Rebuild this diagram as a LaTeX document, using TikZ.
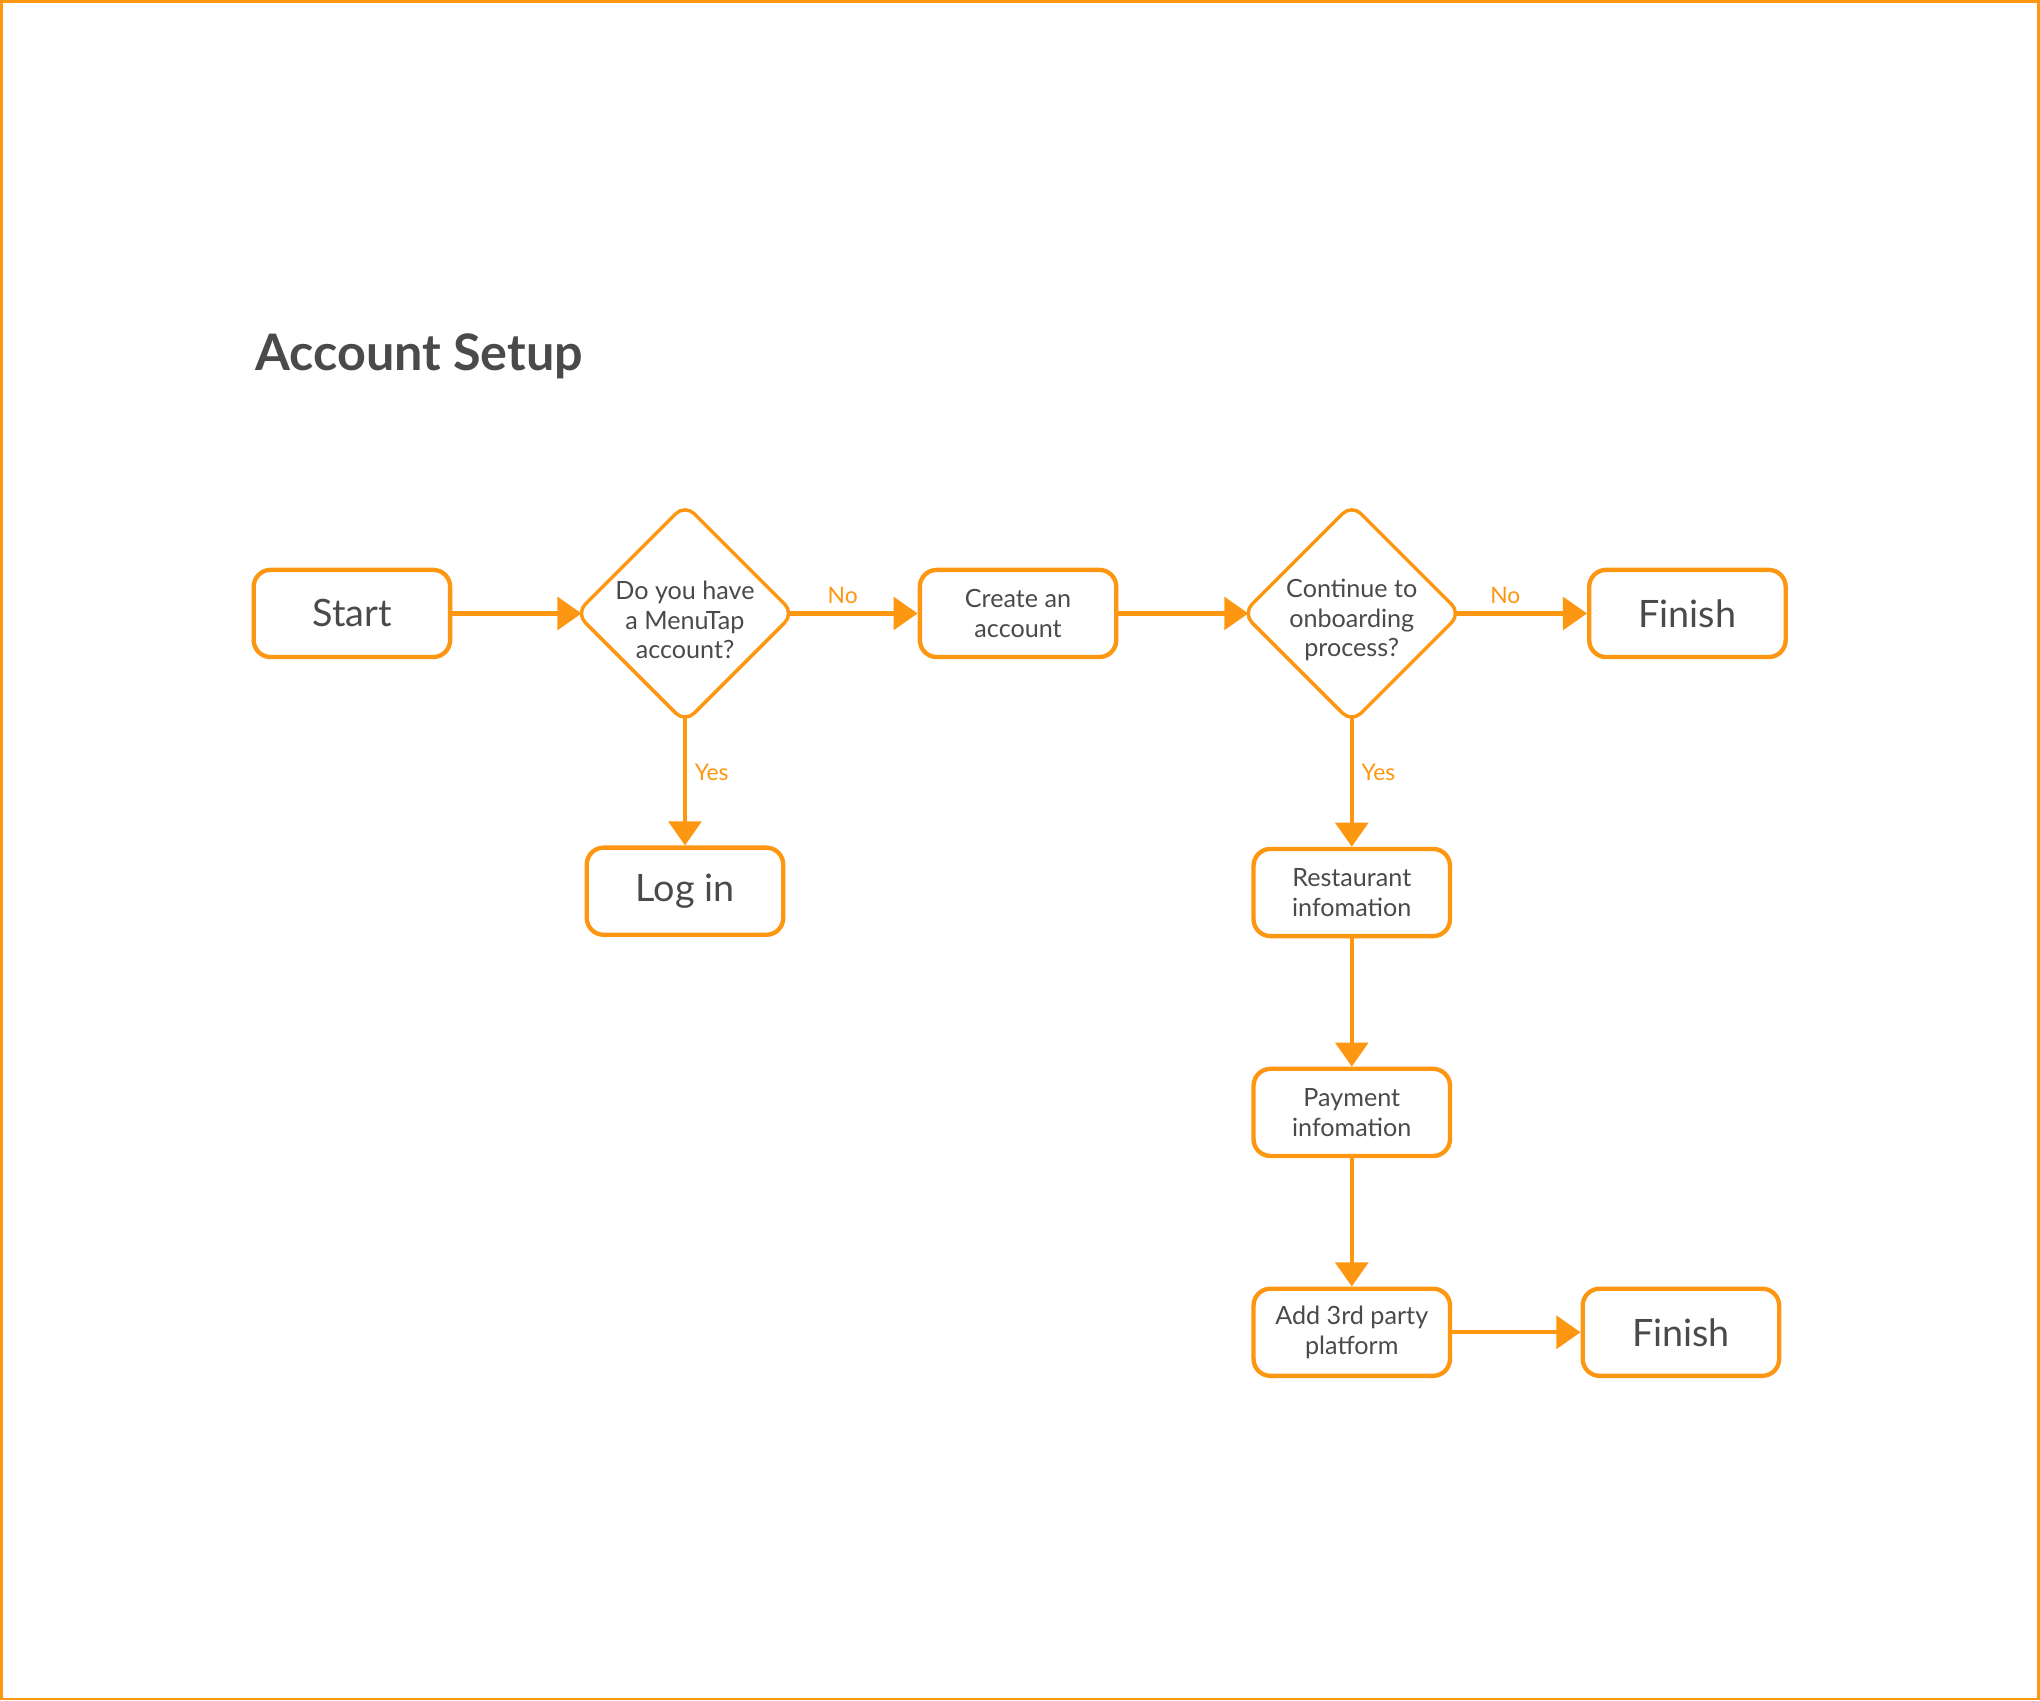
\documentclass[tikz,border=0pt]{standalone}
\usepackage{fontspec}
\setmainfont{Lato}
\definecolor{menuorange}{RGB}{253, 150, 16}
\definecolor{menugray}{RGB}{74, 74, 74}
\usetikzlibrary{shapes.geometric,arrows.meta}

\begin{document}
\begin{tikzpicture}[
                    termbox/.style={draw=menuorange, line width=1.9pt, rounded corners=0.26cm, minimum width=3.02cm, minimum height=1.34cm, text=menugray, font=\fontsize{16.5}{19}\selectfont},
                    procbox/.style={termbox, align=center, font=\fontsize{11}{13}\selectfont},
                    decision/.style={draw=menuorange, line width=1.5pt, diamond, rounded corners=0.2cm, minimum width=3.3cm, minimum height=3.3cm, inner sep=0pt, outer sep=-0.06cm},
                    qtext/.style={align=center, text=menugray, font=\fontsize{11}{13}\selectfont, yshift=-0.1cm},
                    flowarrow/.style={draw=menuorange, line width=1.9pt, -{Triangle[length=0.37cm, width=0.5cm]}},
                    branchlabel/.style={text=menuorange, font=\fontsize{10}{12}\selectfont}]
                    % frame and title
                    \useasboundingbox (0,0) rectangle (31.36,-26.14);
                    \draw[menuorange, line width=0.04cm] (0.02,-0.02) rectangle (31.34,-26.12);
                    \node[anchor=base west, text=menugray, font=\fontsize{22}{26}\selectfont\bfseries] (title) at (3.80,-5.70) {Account Setup};

                    \node[termbox] (start) at (5.41,-9.43) {Start};
                    \node[decision, label={[qtext]center:Do you have\\a MenuTap\\account?}] (qaccount) at (10.53,-9.43) {};
                    \node[procbox] (create) at (15.65,-9.43) {Create an\\account};
                    \node[decision, label={[qtext]center:Continue to\\onboarding\\process?}] (qcontinue) at (20.78,-9.43) {};
                    \node[termbox] (finishtop) at (25.94,-9.43) {Finish};
                    \node[termbox] (login) at (10.53,-13.70) {Log in};
                    \node[procbox] (restaurant) at (20.78,-13.72) {Restaurant\\infomation};
                    \node[procbox] (payment) at (20.78,-17.10) {Payment\\infomation};
                    \node[procbox] (addparty) at (20.78,-20.48) {Add 3rd party\\platform};
                    \node[termbox] (finishbottom) at (25.84,-20.48) {Finish};

                    \draw[flowarrow] (start) -- (qaccount);
                    \draw[flowarrow] (qaccount) -- node[branchlabel, above, pos=0.42] {No} (create);
                    \draw[flowarrow] (qaccount) -- node[branchlabel, right, pos=0.43] {Yes} (login);
                    \draw[flowarrow] (create) -- (qcontinue);
                    \draw[flowarrow] (qcontinue) -- node[branchlabel, above, pos=0.38] {No} (finishtop);
                    \draw[flowarrow] (qcontinue) -- node[branchlabel, right, pos=0.43] {Yes} (restaurant);
                    \draw[flowarrow] (restaurant) -- (payment);
                    \draw[flowarrow] (payment) -- (addparty);
                    \draw[flowarrow] (addparty) -- (finishbottom);
                \end{tikzpicture}
\end{document}
